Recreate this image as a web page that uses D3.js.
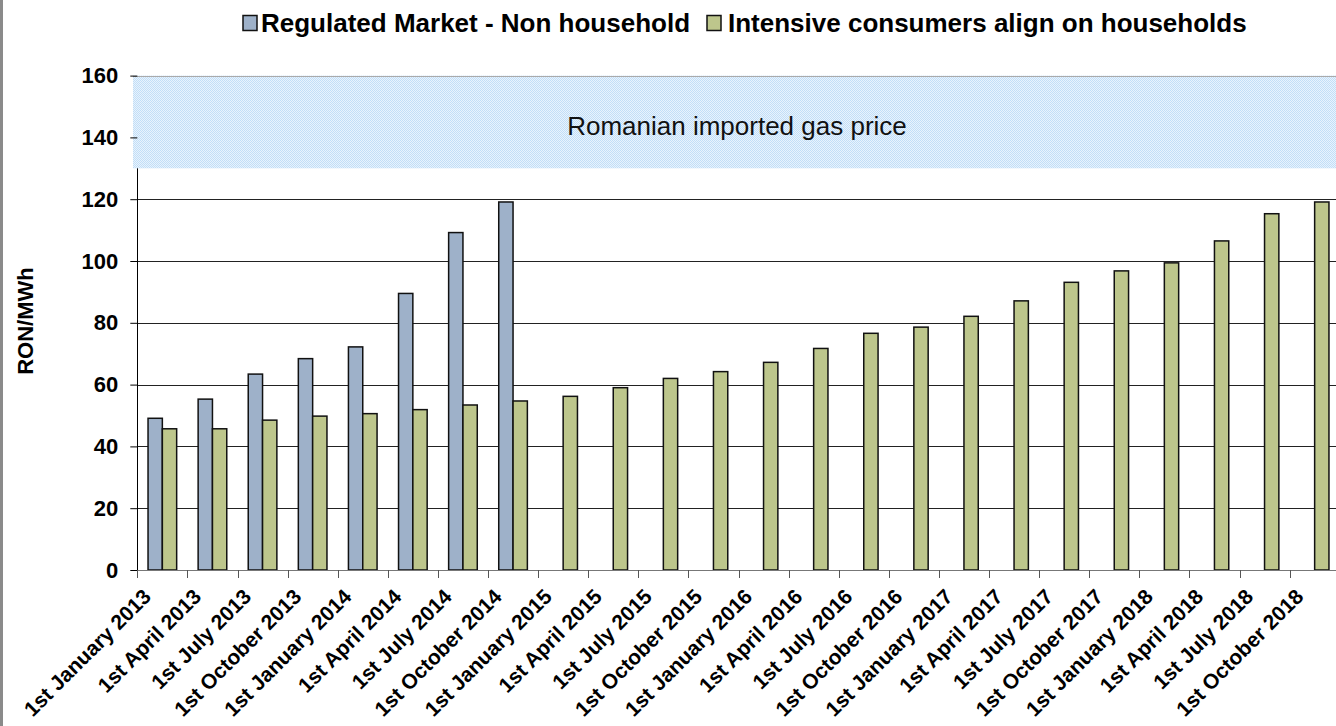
<!DOCTYPE html>
<html>
<head>
<meta charset="utf-8">
<script src="https://cdn.jsdelivr.net/npm/d3@7"></script>
<style>
    body { margin: 0; background: #fff; }
    text { font-family: "Liberation Sans", Arial, sans-serif; }
</style>
</head>
<body>
<div id="gas_price_viz"></div>
<script>
// chart data
const categories = [
    "1st January 2013", "1st April 2013", "1st July 2013", "1st October 2013",
    "1st January 2014", "1st April 2014", "1st July 2014", "1st October 2014",
    "1st January 2015", "1st April 2015", "1st July 2015", "1st October 2015",
    "1st January 2016", "1st April 2016", "1st July 2016", "1st October 2016",
    "1st January 2017", "1st April 2017", "1st July 2017", "1st October 2017",
    "1st January 2018", "1st April 2018", "1st July 2018", "1st October 2018"
];
const regulatedValues = [49.1, 55.3, 63.4, 68.4, 72.2, 89.5, 109.2, 119.1];
const intensiveValues = [45.7, 45.7, 48.5, 49.8, 50.6, 51.9, 53.4, 54.7,
    56.2, 59.0, 62.0, 64.2, 67.2, 71.7, 76.6, 78.6,
    82.1, 87.1, 93.1, 96.8, 99.4, 106.5, 115.3, 119.1];
const seriesNames = ["Regulated Market - Non household", "Intensive consumers align on households"];
const seriesColors = ["#9eb1c9", "#bdc68c"];
const yTicks = [0, 20, 40, 60, 80, 100, 120, 140, 160];
const bandRange = [130, 160];
const bandLabel = "Romanian imported gas price";
const yTitle = "RON/MWh";

const svg = d3.select("#gas_price_viz")
    .append("svg")
    .attr("width", 1336)
    .attr("height", 726)

const x = d3.scaleBand()
    .domain(categories)
    .range([137.3, 1339.7])

// two bars per category, gap of 1.5 bar widths
const xInner = d3.scaleBand()
    .domain([0, 1])
    .range([0, x.bandwidth()])
    .paddingOuter(0.75)

const y = d3.scaleLinear()
    .domain([0, 160])
    .range([570, 75.6])

// left frame edge
svg.append("rect")
    .attr("x", 0).attr("y", 0)
    .attr("width", 3).attr("height", 726)
    .attr("fill", "#8a8a8a");

// dotted pattern for the band
const pattern = svg.append("defs")
    .append("pattern")
    .attr("id", "dots")
    .attr("width", 2).attr("height", 2)
    .attr("patternUnits", "userSpaceOnUse");
pattern.append("rect").attr("width", 2).attr("height", 2).attr("fill", "#e8f3fd");
pattern.append("rect").attr("width", 1).attr("height", 1).attr("fill", "#c2def7");
pattern.append("rect").attr("x", 1).attr("y", 1).attr("width", 1).attr("height", 1).attr("fill", "#c2def7");

// Create the gridlines
svg.selectAll("line.grid")
    .data(yTicks.filter((d) => d > 0 && d < bandRange[0]))
    .enter()
    .append("line")
    .attr("class", "grid")
    .attr("x1", 137.3)
    .attr("x2", 1336)
    .attr("y1", (d) => Math.round(y(d)) + 0.5)
    .attr("y2", (d) => Math.round(y(d)) + 0.5)
    .attr("stroke", "#222")
    .attr("stroke-width", 1);

// band of imported gas price
svg.append("rect")
    .attr("x", 133)
    .attr("y", y(bandRange[1]))
    .attr("width", 1336 - 133)
    .attr("height", y(bandRange[0]) - y(bandRange[1]))
    .attr("fill", "url(#dots)");

svg.append("line")
    .attr("x1", 133).attr("x2", 1336)
    .attr("y1", Math.round(y(160)) + 0.5)
    .attr("y2", Math.round(y(160)) + 0.5)
    .attr("stroke", "#aaa");

svg.append("text")
    .attr("x", 737)
    .attr("y", 135)
    .attr("text-anchor", "middle")
    .attr("font-size", 26)
    .attr("fill", "#111")
    .text(bandLabel);

// y axis
const yAxis = svg.append("g")
    .attr("transform", "translate(137.3,0)")
    .call(d3.axisLeft(y).tickValues(yTicks).tickSize(7).tickPadding(12));
yAxis.select(".domain").remove();
yAxis.selectAll(".tick line").attr("stroke", "#000");
yAxis.selectAll(".tick text")
    .attr("font-family", "Liberation Sans, Arial, sans-serif")
    .attr("font-size", 22)
    .attr("font-weight", "bold")
    .attr("fill", "#000");

svg.append("line")
    .attr("x1", 137.5).attr("x2", 137.5)
    .attr("y1", y(bandRange[0]))
    .attr("y2", 570)
    .attr("stroke", "#000");

// Create the bars
const groups = svg.selectAll("g.cat")
    .data(categories)
    .enter()
    .append("g")
    .attr("class", "cat")
    .attr("transform", (d) => "translate(" + x(d) + ",0)");

groups.each(function (d, i) {
    const vals = [regulatedValues[i], intensiveValues[i]];
    d3.select(this).selectAll("rect.bar")
        .data(vals.map((v, k) => ({ v: v, k: k })).filter((e) => e.v != null))
        .enter()
        .append("rect")
        .attr("class", "bar")
        .attr("x", (e) => xInner(e.k))
        .attr("y", (e) => y(e.v))
        .attr("width", xInner.bandwidth())
        .attr("height", (e) => 570 - y(e.v))
        .attr("fill", (e) => seriesColors[e.k])
        .attr("stroke", "#111")
        .attr("stroke-width", 1.5);
});

// x axis line and ticks
svg.append("line")
    .attr("x1", 137.3).attr("x2", 1336)
    .attr("y1", 570.5).attr("y2", 570.5)
    .attr("stroke", "#777");

svg.selectAll("line.xtick")
    .data(d3.range(categories.length + 1))
    .enter()
    .append("line")
    .attr("class", "xtick")
    .attr("x1", (d) => Math.round(137.3 + d * x.step()) + 0.5)
    .attr("x2", (d) => Math.round(137.3 + d * x.step()) + 0.5)
    .attr("y1", 570)
    .attr("y2", 578)
    .attr("stroke", "#555");

svg.selectAll("text.xlabel")
    .data(categories)
    .enter()
    .append("text")
    .attr("class", "xlabel")
    .attr("transform", (d) => "translate(" + (x(d) + x.bandwidth() / 2 - 10) + ",598) rotate(-45)")
    .attr("text-anchor", "end")
    .attr("font-size", 21)
    .attr("font-weight", "bold")
    .text((d) => d);

// y title
svg.append("text")
    .attr("transform", "translate(33,321) rotate(-90)")
    .attr("text-anchor", "middle")
    .attr("font-size", 22)
    .attr("font-weight", "bold")
    .text(yTitle);

// Create the legend
const legend = svg.selectAll("g.legend")
    .data([{ x: 243, tx: 261 }, { x: 707, tx: 728 }])
    .enter()
    .append("g")
    .attr("class", "legend");

legend.append("rect")
    .attr("x", (d) => d.x)
    .attr("y", 15.5)
    .attr("width", 14)
    .attr("height", 15)
    .attr("fill", (d, i) => seriesColors[i])
    .attr("stroke", "#111")
    .attr("stroke-width", 1.5);

legend.append("text")
    .attr("x", (d) => d.tx)
    .attr("y", 31.5)
    .attr("font-size", 26)
    .attr("font-weight", "bold")
    .text((d, i) => seriesNames[i]);
</script>
</body>
</html>
